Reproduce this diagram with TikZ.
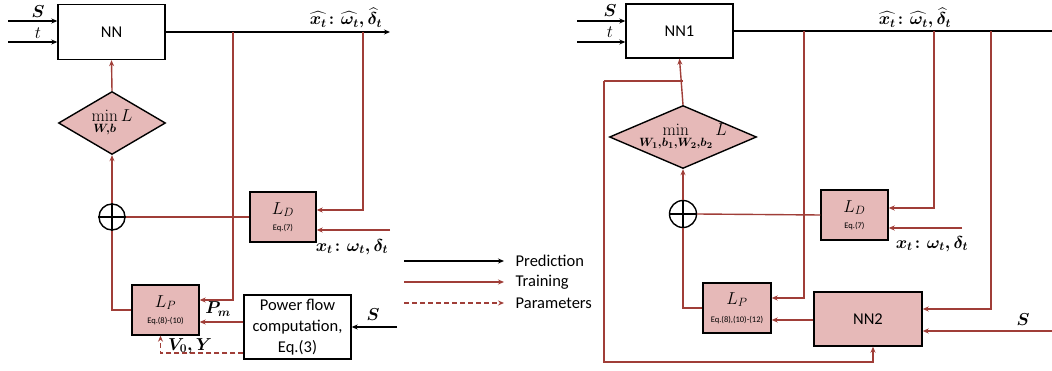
\documentclass[tikz,border=0pt]{standalone}
\usepackage{amsmath,amssymb}
\usepackage[no-math]{fontspec}
\setmainfont{Carlito}
\usepackage{tikz}
\usetikzlibrary{arrows.meta,calc,positioning,shapes.geometric}
\definecolor{trn}{RGB}{160,62,56}
\definecolor{lossfill}{RGB}{230,185,184}
\newcommand{\eqfont}{\fontsize{8.5}{10}\selectfont}
\DeclareMathSizes{16}{16}{12}{9}

\begin{document}
\begin{tikzpicture}[x=1pt,y=-1pt,line width=1.4pt,>={Stealth[length=6pt,width=5pt]},
  pred/.style={draw=black},
  train/.style={draw=trn},
  param/.style={draw=trn,dash pattern=on 5pt off 3pt},
  box/.style={draw=black,line width=1.4pt,inner sep=0pt,align=center,font=\fontsize{16.5}{19}\selectfont},
  loss/.style={box,fill=lossfill},
  lbl/.style={font=\fontsize{16}{19}\selectfont,inner sep=0pt}]
  \useasboundingbox (0,0) rectangle (1052,371);
  % ---- left: single network ----
  \node[box,minimum width=107pt,minimum height=55pt] (nnA) at (111.5,32) {NN};
  \node[loss,diamond,minimum width=107pt,minimum height=63pt] (minA) at (112,123) {};
  \node[lbl] (minAtxt) at (minA) {$\min\limits_{\boldsymbol{W,b}} L$};
  \node[draw,circle,minimum size=26pt,inner sep=0pt,line width=1.4pt] (sumA) at (112,217) {};
  \draw[line width=1.4pt] (sumA.north)--(sumA.south) (sumA.west)--(sumA.east);
  \node[loss,minimum width=66pt,minimum height=50pt] (ldA) at (283,217) {$L_D$\\[-3pt]{\eqfont Eq.(7)}};
  \node[loss,minimum width=67pt,minimum height=50pt] (lpA) at (165.5,310) {$L_P$\\[-3pt]{\eqfont Eq.(8)-(10)}};
  \node[box,minimum width=107pt,minimum height=64pt,font=\fontsize{16.5}{21}\selectfont] (pfA) at (297.5,327) {Power flow\\computation,\\Eq.(3)};
  \coordinate (inSA) at (8,21); \coordinate (inTA) at (8,42);
  \draw[pred,->] (inSA) -- (inSA -| nnA.west);
  \draw[pred,->] (inTA) -- (inTA -| nnA.west);
  \node[lbl] (labSA) at (38,12) {$\boldsymbol{S}$};
  \node[lbl] (labTA) at (38,33) {$t$};
  \coordinate (outA) at (390,32);
  \draw[pred,->] (nnA.east) -- (outA);
  \node[lbl] (hatA) at (346,18) {$\boldsymbol{\widehat{x_t}\colon \widehat{\omega_t}, \widehat{\delta}_t}$};
  \coordinate (tapA1) at (233,32); \coordinate (tapA2) at (363,32);
  \coordinate (lpAin1) at ([yshift=10pt]lpA.east);
  \coordinate (lpAin2) at ([yshift=-12pt]lpA.east);
  \draw[train,->] (tapA1) |- (lpAin1);
  \draw[train,->] (tapA2) |- ([yshift=7pt]ldA.east);
  \coordinate (xtA) at (390,230);
  \draw[train,->] (xtA) -- (xtA -| ldA.east);
  \node[lbl] (labXA) at (352,247) {$\boldsymbol{x_t\colon \omega_t, \delta_t}$};
  \draw[train] (ldA.west) -- (sumA.east);
  \draw[train,->] (sumA.north) -- (minA.south);
  \draw[train,->] (minA.north) -- (nnA.south);
  \draw[train] (sumA.south) |- (lpA.west);
  \draw[train,->] (lpAin2 -| pfA.west) -- (lpAin2);
  \node[lbl] (labPm) at (218,309) {$\boldsymbol{P_m}$};
  \coordinate (sPfA) at (397,327);
  \draw[pred,->] (sPfA) -- (pfA.east);
  \node[lbl] (labSP) at (373,315) {$\boldsymbol{S}$};
  \coordinate (vyA) at (pfA.west |- 0,353);
  \draw[param,->] (vyA) -| ([xshift=-5pt]lpA.south);
  \node[lbl] (labVY) at (190,346) {$\boldsymbol{V_0, Y}$};
  % ---- legend ----
  \foreach \yy/\sty/\txt in {261/pred/Prediction,282/train/Training,303/param/Parameters} {
    \node[anchor=west,font=\fontsize{16.5}{19}\selectfont,inner sep=0pt] (leg\sty) at (515,\yy) {\txt};
    \coordinate (legs\sty) at (404,\yy);
    \draw[\sty,->] (legs\sty) -- ([xshift=-11pt]leg\sty.west);
  }
  % ---- right: two networks ----
  \node[box,minimum width=107pt,minimum height=54pt] (nnB) at (679.5,31) {NN1};
  \node[loss,diamond,minimum width=147pt,minimum height=63pt] (minB) at (683,137) {};
  \node[lbl] (minBtxt) at (minB) {$\min\limits_{\boldsymbol{W_1,b_1,W_2,b_2}} L$};
  \node[draw,circle,minimum size=27pt,inner sep=0pt,line width=1.4pt] (sumB) at (683,214) {};
  \draw[line width=1.4pt] (sumB.north)--(sumB.south) (sumB.west)--(sumB.east);
  \node[loss,minimum width=67pt,minimum height=50pt] (ldB) at (854.5,215) {$L_D$\\[-3pt]{\eqfont Eq.(7)}};
  \node[loss,minimum width=68pt,minimum height=50pt] (lpB) at (737,308) {$L_P$\\[-1pt]{\eqfont Eq.(8),(10)-(12)}};
  \node[loss,minimum width=108pt,minimum height=54pt] (nnC) at (868,319) {NN2};
  \coordinate (inSB) at (577,21); \coordinate (inTB) at (577,42);
  \draw[pred,->] (inSB) -- (inSB -| nnB.west);
  \draw[pred,->] (inTB) -- (inTB -| nnB.west);
  \node[lbl] (labSB) at (610,11) {$\boldsymbol{S}$};
  \node[lbl] (labTB) at (610,32) {$t$};
  \coordinate (outB) at (1052,31);
  \draw[pred] (nnB.east) -- (outB);
  \node[lbl] (hatB) at (915,18) {$\boldsymbol{\widehat{x_t}\colon \widehat{\omega_t}, \widehat{\delta}_t}$};
  \coordinate (tapB1) at (804,31); \coordinate (tapB2) at (934,31); \coordinate (tapB3) at (991,31);
  \coordinate (lpBin1) at ([yshift=10pt]lpB.east);
  \coordinate (lpBin2) at ([yshift=-12pt]lpB.east);
  \draw[train,->] (tapB1) |- (lpBin1);
  \draw[train,->] (tapB2) |- ([yshift=7pt]ldB.east);
  \draw[train,->] (tapB3) |- ([yshift=10pt]nnC.east);
  \coordinate (xtB) at (962,228);
  \draw[train,->] (xtB) -- (xtB -| ldB.east);
  \node[lbl] (labXB) at (932,244) {$\boldsymbol{x_t\colon \omega_t, \delta_t}$};
  \draw[train] (ldB.west) -- (sumB.east);
  \draw[train,->] (sumB.north) -- (minB.south);
  \draw[train,->] (minB.north) -- (nnB.south);
  \draw[train] (sumB.south) |- (lpB.west);
  \draw[train,->] (lpBin2 -| nnC.west) -- (lpBin2);
  \coordinate (sNnC) at (1052,331);
  \draw[train,->] (sNnC) -- (sNnC -| nnC.east);
  \node[lbl] (labSC) at (1023,320) {$\boldsymbol{S}$};
  \coordinate (fbTop) at (604,81); \coordinate (fbBot) at (604,362);
  \draw[train] (fbTop) -- (fbTop -| minB.north);
  \draw[train,->] (fbTop) -- (fbBot) -| ([xshift=5pt]nnC.south);
\end{tikzpicture}
\end{document}
